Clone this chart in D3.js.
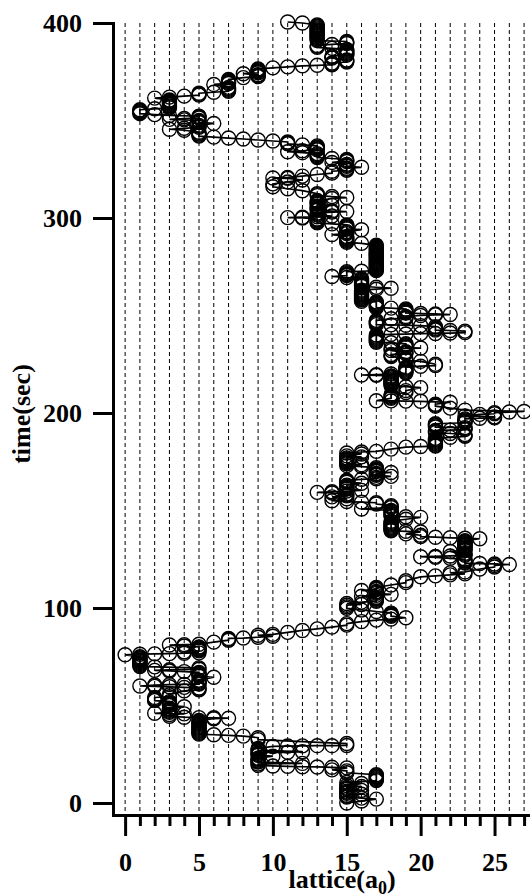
<!DOCTYPE html>
<html>
<head>
<meta charset="utf-8">
<script src="https://cdn.jsdelivr.net/npm/d3@7"></script>
<style>
  body { margin: 0; background: #fff; }
  svg { display: block; }
  text { font-family: "Liberation Serif", "Times New Roman", serif; font-weight: bold; }
</style>
</head>
<body>
<svg width="530" height="895"></svg>
<script>
// tick positions
const xMajorTicks = [0, 5, 10, 15, 20, 25];
const xMinorTicks = [1, 2, 3, 4, 6, 7, 8, 9, 11, 12, 13, 14, 16, 17, 18, 19, 21, 22, 23, 24, 26, 27];
const gridSites = [0, 1, 2, 3, 4, 5, 6, 7, 8, 9, 10, 11, 12, 13, 14, 15, 16, 17, 18, 19, 20, 21, 22, 23, 24, 25, 26, 27];
const yTicks = [0, 100, 200, 300, 400];

// trajectory: [lattice site, time (sec)]
const track = [
  [15,0],[16,1],[17,2],[16,2.5],[15,3],[15,3.5],[15,4],[16,4.5],[15,5],[15,5.5],[15,6],[16,6.5],[15,7],[15,7.5],[15,8],[16,8.5],
  [15,9],[16,10],[15,10.5],
  [17,11.5],[17,12],[17,12.5],[17,13],[17,13.5],[17,14],[17,14.5],[15,15.5],[15,16.5],[14,17],[15,18],[14,18.3],[13,18.5],[12,18.6],
  [11,18.8],[10,19],[9,19.3],[9,20],[12,20.3],[9,21],[9,21.5],[9,22],[9,22.5],[9,23],[10,24],[9,24.5],[9,25],[9,25.5],[9,26],
  [11,26],[12,26.3],[9,27],[9,27.5],[9,28],[10,29],[11,29.2],[12,29.3],[13,29.4],[14,29.4],[15,29.5],[15,30.5],[9,32.5],[9,33.5],
  [8,34.3],[7,34.7],[6,35],[5,35.3],[5,35.8],[5,36.3],[5,36.8],[5,37.3],[5,37.8],[5,38.3],[5,38.8],[5,39.3],[5,39.8],[5,40.3],
  [5,40.8],[5,41.3],[5,41.8],[5,42.3],[6,43.2],[7,43.5],[6,43.7],
  [5,43.8],[4,44],[3,44.5],[3,45.4],[4,45.7],[2,46],[3,46.5],[3,47],[3,47.5],[3,48],[3,48.5],[4,49.4],[3,50],[3,50.5],[3,51],
  [3,51.5],[3,52],[2,52.5],[2,53],[2,53.5],[2,54.1],[3,54.5],[3,55.5],[4,57.5],[5,58],[5,58.5],[5,59],[4,59.3],[3,59.6],[2,59.8],
  [1,60],[2,60.5],[3,60.7],[4,60.8],[5,61],[5,61.5],[5,62],[5,62.5],[5,63],[6,64.5],[5,65],[5,65.5],[5,66],[5,66.5],[5,67],
  [4,67.4],[3,67.7],[2,68],[3,68.3],[5,68.6],[5,69.3],[2,69.8],[1,70],[1,70.5],[1,71],[1,71.5],[1,72],[1,72.5],[1,73],[1,73.5],
  [1,74],[1,74.5],[1,75],[0,76],[1,76.3],[2,76.5],[3,76.6],[4,76.8],[5,77],[4,77.6],[5,78],[5,78.5],[5,79],[5,79.5],[5,80],
  [4,80.5],[3,81],[4,81.2],[5,81.4],
  [6,82.5],[7,83.5],[7,84],[7,84.4],[8,84.6],[9,85],[10,85.5],[9,86],[10,86.5],[11,87.5],[12,88.5],[13,89.3],[14,90.2],[15,91.2],
  [15,92],[16,93],[17,93.8],[18,94.3],[19,95],[18,95.8],[18,96.2],[18,96.6],[18,97],[18,97.4],[17,98.2],[16,99],[15,99.8],
  [15,100.6],[15,101.4],[16,101.8],[15,102.3],[16,103],[17,103.5],[17,104],[17,104.5],[17,105],[17,105.5],[16,106],[17,106.5],
  [18,107],[17,107.5],[17,108],[17,108.5],[16,109],[17,109.5],[17,110],[17,110.5],[18,111.8],[19,113],[19,114],[20,116],
  [21,116.5],[22,117],[23,117.5],[22,118],[23,118.5],
  [24,120],[25,121],[25,121.8],[26,122.3],[25,122.6],[24,122.8],[23,123],[23,123.5],[23,124],[23,124.5],[23,125],[22,125.5],
  [21,126],[20,126.3],[21,126.5],[22,126.7],[23,127],[23,127.5],[23,128],[22,129],[23,129.5],[23,130],[23,130.5],[23,131],
  [23,131.5],[23,132],[23,132.5],[23,133],[23,133.5],[23,134],[23,134.5],[24,135.5],[23,135.8],
  [22,136],[21,136.3],[20,136.6],[20,137.3],[19,138],[20,139],[19,139.3],[18,139.6],[18,140],[18,140.5],[18,141],[18,141.5],
  [18,142],[18,142.5],[18,143],[18,143.5],[18,144],[18,144.5],[19,145.5],[20,146.5],[19,146.8],[18,147],[18,147.5],[18,148],
  [18,148.5],[18,149],[18,149.5],[18,150],[16,150.8],[18,151.5],[18,152],[18,152.5],[17,153.3],
  [17,154],[16,154.3],[15,154.6],[14,155],[15,156],[14,157],[15,157.5],[15,158],[15,158.5],[14,159],[13,159.3],[14,159.6],[15,160],
  [16,160.3],[15,161],[15,161.5],[15,162],[15,162.5],[15,163],[16,164],[15,164.5],[15,165],[15,165.5],[16,166],[17,166.3],
  [17,167],[18,167.5],[17,168],[17,168.5],[17,169],[18,169.5],[17,170],[17,170.5],[17,171],[17,171.5],[17,172],[16,172.5],
  [15,173],[16,173.5],[15,174],[15,174.5],[15,175],[15,175.5],[15,176],[15,176.5],[15,177],[16,177.5],[15,178],[16,179],
  [15,179.5],[16,180],[17,180.3],[18,181.5],[19,182.5],[20,182.8],[21,183],[21,183.5],[21,184],[21,184.5],[21,185],[21,185.5],
  [21,186],[21,186.5],[21,187],[22,187.5],[23,188],[23,188.5],[23,189],[22,189.5],[21,190],[21,190.5],[21,191],[22,191.2],
  [23,191.5],[23,192],[23,192.5],[21,192.8],[21,193.5],[21,194],[21,194.5],[23,195],[23,195.5],[23,196],[23,196.5],[23,197],
  [24,197.3],[25,197.5],[25,198],[23,198.5],[24,199.3],[25,199.6],[25,200.2],[26,200.5],[27,200.8],[23,201.5],[22,202.5],
  [21,203.5],[21,204],[21,204.5],[22,205.5],[20,206],[19,206.1],[18,206.2],[17,206.3],
  [18,207.5],[18,208],[18,208.5],[18,209],[18,209.5],[19,210.5],[19,211.5],[20,213],[19,213.5],[18,214],[18,214.5],[18,215],
  [18,215.5],[18,216],[18,216.5],[18,217],[18,217.5],[18,218],[18,218.5],[18,219],
  [17,219.3],[16,219.5],[17,219.7],[18,220],[19,220.5],[19,221],[19,221.5],[19,222],[19,222.5],[19,223],[19,223.5],[20,224],
  [21,224.3],[21,225],[20,226.5],[19,227],[19,227.5],[19,228],[18,229],[18,229.5],[18,230],[19,230.5],[19,231],[19,231.5],
  [18,232],[18,233],[20,233.3],[19,233.6],[19,234],[19,234.5],[19,235],[19,235.5],[18,236],
  [17,236.3],[17,236.8],[17,237.3],[17,237.8],[17,238.3],[17,238.8],[17,239.3],[17,240],[18,240.3],[19,240.5],[20,240.7],
  [21,240.8],[22,241],[23,241.2],[23,242],[22,242.3],[21,242.5],[21,243],[21,243.5],[21,244.3],[20,244.8],[19,245],[18,245.2],
  [17,245.3],[17,246],[17,246.5],[17,247],[17,247.5],[18,248.3],[19,248.5],[19,249],[19,249.5],[20,250],[21,250.3],[22,250.5],
  [21,250.8],[20,251],[19,251.3],[19,251.8],[19,252.3],[19,252.8],[19,253.3],[18,253.8],[17,254],[17,254.5],[17,255],[17,255.5],
  [17,256],[17,256.5],[17,257],[16,257.3],[16,258],
  [16,258.5],[16,259],[16,259.5],[16,260],[16,260.5],[16,261],[16,261.5],[16,262],[16,262.5],[16,263],[17,263.5],[18,264],
  [17,264.5],[16,265],[16,265.5],[16,266],[16,266.5],[16,267],[16,267.5],[16,268],[16,268.5],[16,269],[15,269.5],
  [14,270],[15,270.5],[15,271],[15,271.5],[15,272],[15,272.5],[16,272.7],[17,273],[17,273.5],[17,274],[17,274.5],[17,275],
  [17,275.5],[17,276],[17,276.5],[17,277],[17,277.5],[17,278],[17,278.5],[17,279],[17,279.5],[17,280],[17,280.5],[17,281],
  [17,281.5],[17,282],[17,282.5],[17,283],[17,283.5],[17,284],[17,284.5],[17,285],[17,285.5],[17,286],[16,287],[15,287.5],
  [15,288],[15,288.5],[15,289],[15,289.5],[15,290],[15,290.5],[14,291.5],[15,292],[15,292.5],[15,293],[16,294],[15,294.5],
  [15,295],[15,295.5],[15,296],[15,296.5],[14,297],[13,297.5],[13,298],[13,298.5],[13,299],[13,299.5],[12,300],[11,300.2],
  [12,300.4],[13,300.6],[14,301],[13,301.5],[13,302],[13,302.5],[14,303],[15,303.3],[14,303.6],[13,304],
  [13,304.5],[13,305],[13,305.5],[13,306],[14,306.5],[13,307],[13,307.5],[13,308],[13,308.5],[13,309],[14,310],[15,310.5],
  [14,311],[13,311.5],[13,312],[13,312.5],[12,314],[11,315],[10,316],[10,317.5],[11,318.5],[12,319.5],[11,320.3],[10,320.5],
  [11,320.8],[12,321.5],[13,322.3],[14,323],[14,324],[15,324.5],[15,325],[15,325.5],[16,326],[15,326.5],[15,327],[15,327.5],
  [14,328.5],[15,329],[15,329.5],[15,330],[14,330.5],[13,331],[13,331.5],[13,332],[13,332.5],[13,333],[12,333.5],[11,334],
  [12,334.5],[13,335],[13,335.5],[13,336],[13,336.5],[13,337],[12,337.5],[11,338],[11,338.5],[11,339],[10,339.5],[9,340],
  [8,340.5],[7,341],[6,341.5],[5,342],[5,342.5],[5,343],[5,343.5],[5,344],[4,345],[3,345.5],[4,346],[5,346.5],[5,347],
  [5,347.5],[6,348.5],[5,349],[5,349.5],[5,350],[4,350.3],[3,350.6],[4,351],[5,351.3],[5,351.8],[5,352.2],
  [3,352.6],[2,353],[1,353.5],[1,354],[1,354.5],[1,355],[1,355.5],[2,356],[3,356.5],[3,357],[3,357.5],[3,358],[3,358.5],
  [3,359],[3,359.5],[3,360],[3,360.5],[2,361.5],[3,362],[4,362.5],[5,363],[5,363.5],[5,364],[6,364.5],[7,365],[7,365.5],
  [7,366],[7,366.5],[7,367],[6,368.5],[7,369],[7,369.5],[7,370],[7,370.5],[7,371],[8,372],[9,372.5],[9,373],[9,373.5],[8,374],
  [9,374.5],[9,375],[9,375.5],[9,376],[9,376.5],[10,377],[11,377.5],[12,378],[13,378.3],[14,378.6],[14,379],[14,379.5],
  [15,380],[15,380.5],[15,381],[14,382],[14,382.5],[14,383],[15,383.5],[15,384],[15,384.5],[15,385],[15,385.5],[15,386],
  [15,386.5],[14,387],[13,387.5],[13,388],[13,388.5],[14,389],[15,389.5],[15,390],[15,390.5],[13,391],[13,391.5],[13,392],
  [13,392.5],[13,393],[13,393.5],[13,394],[13,394.5],[13,395],[13,395.5],[13,396],[13,396.5],[13,397],[13,397.5],[13,398],
  [13,398.5],[13,399],[12,400],[11,400.5]
];

let svg = d3.select("svg");

let x = d3.scaleLinear().domain([-0.82, 27.4]).range([113, 530]);
let y = d3.scaleLinear().domain([-6.15, 400]).range([815, 23]);

// dashed site lines
svg.append("g")
    .attr("class", "grid")
  .selectAll("line")
  .data(gridSites)
  .enter().append("line")
    .attr("x1", d => x(d))
    .attr("x2", d => x(d))
    .attr("y1", y(400))
    .attr("y2", y(-6.15))
    .attr("stroke", "#000")
    .attr("stroke-width", 1)
    .attr("stroke-dasharray", "4,3");

// trajectory
let line = d3.line()
  .x(d => x(d[0]))
  .y(d => y(d[1]));

svg.append("path")
  .datum(track)
  .attr("d", line)
  .attr("fill", "none")
  .attr("stroke", "#000")
  .attr("stroke-width", 1.7);

svg.append("g")
    .attr("class", "points")
  .selectAll("circle")
  .data(track)
  .enter().append("circle")
    .attr("cx", d => x(d[0]))
    .attr("cy", d => y(d[1]))
    .attr("r", 7)
    .attr("fill", "none")
    .attr("stroke", "#000")
    .attr("stroke-width", 1.4);

// axes
const fontSize = 26;

let gy = svg.append("g")
  .attr("transform", "translate(113,0)")
  .call(d3.axisLeft(y).tickValues(yTicks).tickSize(20).tickSizeOuter(0).tickPadding(11));

let gxMinor = svg.append("g")
  .attr("transform", "translate(0,815)")
  .call(d3.axisBottom(x).tickValues(xMinorTicks).tickSize(11).tickSizeOuter(0).tickFormat(""));

let gx = svg.append("g")
  .attr("transform", "translate(0,815)")
  .call(d3.axisBottom(x).tickValues(xMajorTicks).tickSize(21).tickSizeOuter(0));

[gy, gx, gxMinor].forEach(g => {
  g.attr("font-size", fontSize).attr("font-family", null);
  g.select(".domain").attr("stroke-width", 3).attr("stroke-linecap", "square");
  g.selectAll(".tick line").attr("stroke-width", 3);
  g.selectAll(".tick text").attr("fill", "#000");
});

gx.selectAll(".tick text")
  .attr("y", 56)
  .attr("dy", 0);

// titles
let xTitle = svg.append("text")
  .attr("x", 342)
  .attr("y", 888)
  .attr("text-anchor", "middle")
  .attr("font-size", fontSize);
xTitle.append("tspan").text("lattice(a");
xTitle.append("tspan").attr("font-size", 18).attr("dy", 6).text("0");
xTitle.append("tspan").attr("dy", -6).text(")");

svg.append("text")
  .attr("transform", "translate(30,414) rotate(-90)")
  .attr("text-anchor", "middle")
  .attr("font-size", fontSize)
  .text("time(sec)");
</script>
</body>
</html>
